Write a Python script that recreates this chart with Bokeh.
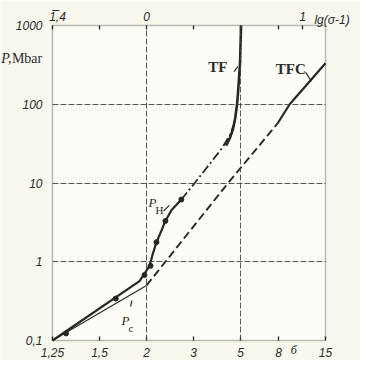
import numpy as np
from bokeh.plotting import figure
from bokeh.models import Range1d, LinearAxis, LogAxis, FixedTicker, Label, BoxAnnotation
from bokeh.embed import file_html
from bokeh.resources import INLINE

# ---- data: sigma = compression ratio, P in Mbar ----
tf_sigma = [5.03, 4.97, 4.85, 4.80, 4.69, 4.58, 4.43, 4.23]
tf_P = [1000, 330, 135, 100, 64.9, 48.7, 37.6, 29.9]

ph_calc_sigma = [2.671, 2.99, 3.56, 4.09, 4.43, 4.64]
ph_calc_P = [6.17, 9.45, 17.8, 29.0, 41.0, 56.2]

exp_sigma = [1.25, 1.902, 1.957, 2.045, 2.092, 2.158, 2.246, 2.321, 2.443, 2.671]
exp_P = [0.1, 0.567, 0.678, 0.887, 1.22, 1.77, 2.48, 3.30, 4.51, 6.17]

pts_sigma = [1.305, 1.635, 1.971, 2.061, 2.158, 2.321, 2.671]
pts_P = [0.123, 0.341, 0.678, 0.887, 1.77, 3.30, 6.17]

pc_sigma = [1.25, 2.0]
pc_P = [0.1, 0.50]

tfc_dash_sigma = [2.0, 2.321, 4.33, 7.9]
tfc_dash_P = [0.50, 1.0, 10, 57]
tfc_solid_sigma = [7.9, 9.26, 15]
tfc_solid_P = [57, 100, 331]

NB = "\u00a0"
sigma_ticks = [1.25, 1.5, 2, 3, 5, 8, 15]
sigma_labels = ["1,25", "1,5", "2", "3", "5", "8", "15"]
lg_ticks = [np.log10(0.25), np.log10(0.5), 0.0, np.log10(2), np.log10(4), np.log10(7), 1.0]
lg_labels = [NB * 3 + "1\u0305,4", "", "0", "", "", "", "1"]
p_ticks = [0.1, 1, 10, 100, 1000]
p_labels = ["0,1", "1", "10", "100", "1000"]
sigma_grid = [2, 5]
p_grid = [1, 10, 100]


def lgx(s):
    return np.log10(np.asarray(s, dtype=float) - 1.0)


INK = "#262626"
TXT = "#2b2b2b"

X0, X1 = float(lgx(sigma_ticks[0])), float(lgx(sigma_ticks[-1]))
Y0, Y1 = p_ticks[0], p_ticks[-1]

# the plotting box sits at 52..325 px (x) and 25..340 px (y) of a 360x360 canvas
W, H = 360, 360
bx0, bx1, by0, by1 = 52, 325, 25, 340
kx = (X1 - X0) / (bx1 - bx0)
ky = (np.log10(Y1) - np.log10(Y0)) / (by1 - by0)
xr = Range1d(X0 - bx0 * kx, X1 + (W - bx1) * kx)
yr = Range1d(10 ** (np.log10(Y0) - (H - by1) * ky), 10 ** (np.log10(Y1) + by0 * ky))

p = figure(width=W, height=H, output_backend="svg", toolbar_location=None,
           x_range=xr, y_range=yr, y_axis_type="log", min_border=0)
p.background_fill_color = "#f9f8ee"
p.border_fill_color = "#f9f8ee"
p.outline_line_color = None
p.grid.visible = False

# the box (interior and frame)
p.add_layout(BoxAnnotation(left=X0, right=X1, bottom=Y0, top=Y1, level="underlay",
                           fill_color="#fdfcf7", fill_alpha=1.0,
                           line_color=INK, line_width=1.6))

# bottom axis (sigma)
bt = [float(v) for v in lgx(sigma_ticks)]
bax = p.xaxis[0]
bax.fixed_location = Y0
bax.ticker = FixedTicker(ticks=bt)
bax.major_label_overrides = {t: l for t, l in zip(bt, sigma_labels)}
bax.major_label_standoff = 7

# top axis lg(sigma-1)
top = LinearAxis(ticker=FixedTicker(ticks=lg_ticks),
                 major_label_overrides={t: l for t, l in zip(lg_ticks, lg_labels)})
top.fixed_location = Y1
top.major_label_standoff = 2
p.add_layout(top, "above")

for ax in (bax, top):
    ax.major_tick_in = 4
    ax.major_tick_out = 0
    ax.minor_tick_line_color = None
    ax.axis_line_color = None
    ax.major_tick_line_color = INK
    ax.major_tick_line_width = 1.3

# left axis P
lax = p.yaxis[0]
lax.fixed_location = X0
lax.ticker = FixedTicker(ticks=p_ticks)
lax.major_label_overrides = {t: l for t, l in zip(p_ticks, p_labels)}
lax.major_tick_in = 0
lax.major_tick_out = 0
lax.minor_tick_line_color = None
lax.axis_line_color = None
lax.major_label_standoff = 10

for ax in (bax, top, lax):
    ax.major_label_text_font = "Liberation Sans"
    ax.major_label_text_font_style = "italic"
    ax.major_label_text_font_size = "12px"
    ax.major_label_text_color = TXT


# dashed grid lines drawn as bare, bounded axis lines
def grid_axis(cls, loc, bounds, side):
    a = cls(fixed_location=loc, bounds=bounds, ticker=FixedTicker(ticks=[]),
            major_tick_line_color=None, minor_tick_line_color=None,
            major_label_text_font_size="0px", axis_line_color="#3c3c3c",
            axis_line_width=1, axis_line_dash="6 2", axis_line_alpha=0.85)
    p.add_layout(a, side)


for s in sigma_grid:
    grid_axis(LogAxis, float(lgx([s])[0]), (Y0, Y1), "left")
for v in p_grid:
    grid_axis(LinearAxis, v, (X0, X1), "below")

# curves
p.line(lgx(tf_sigma), tf_P, line_color=INK, line_width=2.6)
p.line(lgx(ph_calc_sigma), ph_calc_P, line_color=INK, line_width=1.8, line_dash="9 3 2 3")
p.line(lgx(exp_sigma), exp_P, line_color=INK, line_width=2.2)
p.line(lgx(pc_sigma), pc_P, line_color=INK, line_width=1.1)
p.line(lgx(tfc_dash_sigma), tfc_dash_P, line_color=INK, line_width=1.9, line_dash="8 4")
p.line(lgx(tfc_solid_sigma), tfc_solid_P, line_color=INK, line_width=2.2)
p.scatter(lgx(pts_sigma), pts_P, size=5, color=INK)

# leader strokes next to labels
p.segment(x0=[0.560, 1.019, 0.108, -0.102], y0=[260, 255, 4.4, 0.27],
          x1=[0.585, 1.056, 0.146, -0.094], y1=[300, 195, 5.2, 0.32],
          line_color=INK, line_width=1.2)


def lab(x, y, t, size="15px", style="normal", font="Liberation Serif"):
    p.add_layout(Label(x=x, y=y, text=t, text_font=font, text_font_size=size,
                       text_font_style=style, text_color=TXT, text_baseline="alphabetic"))


lab(0.395, 300, "TF", "15px", "bold")
lab(0.828, 280, "TFC", "15px", "bold")
lab(0.012, 5.6, "P", "13px", "italic")
lab(0.058, 4.5, "H", "11px")
lab(-0.160, 0.18, "P", "13px", "italic")
lab(-0.115, 0.145, "c", "11px")
lab(-0.930, 380, "P,", "14px", "italic")
lab(-0.862, 380, "Mbar", "14px")
lab(1.075, 1170, "lg(\u03c3-1)", "12px", "italic", "Liberation Sans")
lab(0.924, 0.075, "\u0431", "12px", "italic")

open("out.html", "w").write(file_html(p, INLINE))
